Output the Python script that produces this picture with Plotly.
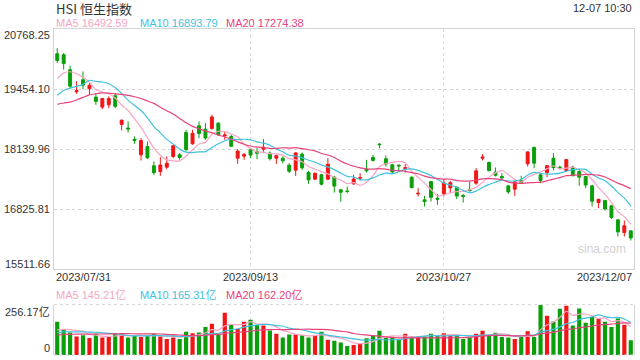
import plotly.graph_objects as go
import pandas as pd

# ---------------- data ----------------
dates = [
    "2023-07-31", "2023-08-01", "2023-08-02", "2023-08-03", "2023-08-04",
    "2023-08-07", "2023-08-08", "2023-08-09", "2023-08-10", "2023-08-11",
    "2023-08-14", "2023-08-15", "2023-08-16", "2023-08-17", "2023-08-18",
    "2023-08-21", "2023-08-22", "2023-08-23", "2023-08-24", "2023-08-25",
    "2023-08-28", "2023-08-29", "2023-08-30", "2023-08-31",
    "2023-09-04", "2023-09-05", "2023-09-06", "2023-09-07",
    "2023-09-11", "2023-09-12", "2023-09-13", "2023-09-14", "2023-09-15",
    "2023-09-18", "2023-09-19", "2023-09-20", "2023-09-21", "2023-09-22",
    "2023-09-25", "2023-09-26", "2023-09-27", "2023-09-28", "2023-09-29",
    "2023-10-03", "2023-10-04", "2023-10-05", "2023-10-06",
    "2023-10-09", "2023-10-10", "2023-10-11", "2023-10-12", "2023-10-13",
    "2023-10-16", "2023-10-17", "2023-10-18", "2023-10-19", "2023-10-20",
    "2023-10-24", "2023-10-25", "2023-10-26", "2023-10-27",
    "2023-10-30", "2023-10-31", "2023-11-01", "2023-11-02", "2023-11-03",
    "2023-11-06", "2023-11-07", "2023-11-08", "2023-11-09", "2023-11-10",
    "2023-11-13", "2023-11-14", "2023-11-15", "2023-11-16", "2023-11-17",
    "2023-11-20", "2023-11-21", "2023-11-22", "2023-11-23", "2023-11-24",
    "2023-11-27", "2023-11-28", "2023-11-29", "2023-11-30", "2023-12-01",
    "2023-12-04", "2023-12-05", "2023-12-06", "2023-12-07",
]

open_ = [
    20227, 20205, 19877, 19395, 19658, 19461, 19278, 19059, 19110, 19307,
    18680, 18600, 18355, 18015, 18198, 17774, 17650, 17745, 17978, 18015,
    18504, 18256, 18650, 18577, 18592, 18709, 18431, 18417, 17942, 17985,
    18124, 18088, 18139, 18052, 17942, 17942, 17789, 17680, 18030, 17628,
    17482, 17577, 17482, 17526, 17249, 17220, 17380, 17505, 17701, 17957,
    18250, 17928, 17796, 17790, 17716, 17526, 17160, 17030, 17431, 17066,
    17160, 17290, 17307, 17125, 17255, 17395, 17940, 17847, 17635, 17540,
    17336, 17263, 17460, 17818, 18176, 17577, 17628, 17942, 17745, 17672,
    17745, 17650, 17540, 17336, 16971, 17015, 16898, 16592, 16314, 16351,
]
high = [
    20351, 20242, 19964, 19621, 19840, 19585, 19366, 19249, 19293, 19366,
    18782, 18745, 18417, 18380, 18307, 17869, 17964, 17979, 18234, 18052,
    18563, 18563, 18745, 18709, 18891, 18723, 18526, 18453, 18140, 18052,
    18161, 18161, 18358, 18088, 18005, 17979, 17832, 18067, 18067, 17665,
    17628, 17599, 17942, 17555, 17263, 17322, 17577, 17614, 17906, 18015,
    18271, 18001, 17818, 17796, 17818, 17540, 17285, 17117, 17431, 17161,
    17482, 17440, 17322, 17161, 17431, 17723, 18030, 17869, 17738, 17614,
    17350, 17431, 17555, 18088, 18198, 17614, 17790, 18052, 17774, 17920,
    17774, 17701, 17555, 17358, 17045, 17030, 16920, 16607, 16577, 16358,
]
low = [
    20023, 19877, 19453, 19351, 19453, 19329, 19110, 19015, 19037, 19037,
    18548, 18504, 18256, 17891, 17920, 17577, 17555, 17700, 17942, 17906,
    18088, 18234, 18380, 18344, 18563, 18431, 18344, 18183, 17818, 17906,
    17942, 17920, 18052, 17891, 17818, 17830, 17614, 17555, 17687, 17380,
    17467, 17344, 17467, 17190, 16988, 17176, 17358, 17453, 17628, 17869,
    18161, 17760, 17614, 17672, 17628, 17285, 17103, 16884, 16993, 16920,
    17103, 17175, 17045, 16971, 17212, 17358, 17891, 17650, 17540, 17467,
    17161, 17117, 17380, 17760, 17723, 17394, 17526, 17672, 17687, 17650,
    17540, 17336, 17285, 16884, 16847, 16796, 16607, 16227, 16227, 16139,
]
close = [
    20078.94, 20011.12, 19517.59, 19420.87, 19539.46, 19537.92, 19184.17, 19246.03, 19248.26, 19075.19,
    18773.55, 18581.13, 18329.30, 18326.63, 17950.85, 17623.29, 17791.01, 17830.00, 18212.17, 17956.45,
    18130.74, 18484.39, 18482.86, 18382.06, 18844.16, 18456.89, 18449.98, 18202.07, 18096.44, 18025.89,
    18009.22, 18047.92, 18182.89, 17930.55, 17997.17, 17885.30, 17655.41, 18057.45, 17729.68, 17466.90,
    17611.87, 17373.03, 17809.66, 17331.22, 17195.84, 17213.87, 17485.98, 17517.40, 17664.31, 17893.10,
    18238.21, 17813.45, 17640.36, 17773.34, 17732.52, 17295.89, 17172.13, 16991.53, 17085.33, 17044.61,
    17398.73, 17406.36, 17112.48, 17101.78, 17230.59, 17664.12, 17966.59, 17670.88, 17568.46, 17511.29,
    17203.26, 17426.21, 17396.86, 18079.00, 17832.84, 17454.19, 17778.07, 17733.89, 17734.60, 17910.92,
    17559.42, 17525.06, 17354.14, 17000.34, 17042.88, 16830.30, 16646.06, 16327.86, 16463.00, 16195.73,
]
volume = [
    169, 128, 114, 94, 101, 87, 108, 89, 92, 108,
    111, 89, 99, 92, 99, 108, 94, 82, 89, 82,
    118, 111, 114, 142, 159, 108, 215, 154, 132, 169,
    179, 154, 150, 125, 108, 89, 104, 104, 101, 89,
    99, 118, 77, 72, 63, 46, 51, 56, 85, 101,
    123, 89, 89, 79, 108, 97, 94, 94, 108, 99,
    111, 101, 99, 82, 89, 108, 123, 99, 113, 92,
    89, 82, 94, 121, 92, 256.17, 200, 171, 235, 251,
    150, 236, 164, 193, 184, 169, 142, 186, 154, 75,
]

# closes / volumes of the 19 sessions before the window (feed the moving averages)
prior_close = [
    19415.76, 19110.38, 18533.05, 18365.70, 18479.73, 18659.83, 18860.95, 19350.00,
    19413.78, 19015.33, 18980.81, 18952.18, 19077.01, 19075.00, 18668.15, 19434.40,
    19365.14, 19639.11, 19916.56,
]
prior_volume = [88, 92, 85, 95, 90, 87, 93, 89, 91, 94, 96, 102, 99, 103, 100, 115, 120, 117, 119]

price_ticks = [20768.25, 19454.10, 18139.96, 16825.81, 15511.66]
price_tick_text = ["20768.25", "19454.10", "18139.96", "16825.81", "15511.66"]
vol_ticks = [256.17, 0]
vol_tick_text = ["256.17亿", "0"]
date_labels = ["2023/07/31", "2023/09/13", "2023/10/27", "2023/12/07"]
date_label_cats = ["2023-07-31", "2023-09-13", "2023-10-27", "2023-12-07"]
title_text = "HSI 恒生指数"
time_text = "12-07 10:30"
price_ma_text = ["MA5 16492.59", "MA10 16893.79", "MA20 17274.38"]
vol_ma_text = ["MA5 145.21亿", "MA10 165.31亿", "MA20 162.20亿"]

# ---------------- style ----------------
RED = "#f21515"
GREEN = "#0a9f0a"
MA_COLORS = ["#f7a5c4", "#3ec2de", "#e8447c"]
MA_N = [5, 10, 20]
GRID = "#d4d4d4"
TXT = "#333333"
FONT = "Liberation Sans, Arial, sans-serif"

n_prior = len(prior_close)
cs = pd.Series(prior_close + close)
vs = pd.Series(prior_volume + volume)
price_ma = [cs.rolling(n).mean().iloc[n_prior:].tolist() for n in MA_N]
vol_ma = [vs.rolling(n).mean().iloc[len(prior_volume):].tolist() for n in MA_N]
vol_colors = [RED if c >= o else GREEN for o, c in zip(open_, close)]

fig = go.Figure()
fig.add_trace(go.Candlestick(
    x=dates, open=open_, high=high, low=low, close=close,
    increasing=dict(line=dict(color=RED, width=1), fillcolor=RED),
    decreasing=dict(line=dict(color=GREEN, width=1), fillcolor=GREEN),
    whiskerwidth=0, xaxis="x", yaxis="y", showlegend=False, hoverinfo="skip",
))
for vals, col in zip(price_ma, MA_COLORS):
    fig.add_trace(go.Scatter(x=dates, y=vals, mode="lines",
                             line=dict(color=col, width=1.2, shape="spline", smoothing=0.6),
                             xaxis="x", yaxis="y", showlegend=False, hoverinfo="skip"))
fig.add_trace(go.Bar(x=dates, y=volume, marker=dict(color=vol_colors, line=dict(width=0)),
                     xaxis="x2", yaxis="y2", showlegend=False, hoverinfo="skip"))
for vals, col in zip(vol_ma, MA_COLORS):
    fig.add_trace(go.Scatter(x=dates, y=vals, mode="lines",
                             line=dict(color=col, width=1.2, shape="spline", smoothing=0.6),
                             xaxis="x2", yaxis="y2", showlegend=False, hoverinfo="skip"))

PT, PB = 29.3, 5
H = 360
plot_h = H - PT - PB
price_bottom_px = 269.3
vol_top_px = 304.7
price_dom = [(H - PB - price_bottom_px) / plot_h, 1]
vol_dom = [0, (H - PB - vol_top_px) / plot_h]

xcommon = dict(type="category", range=[-0.5, len(dates) - 0.5],
               tickvals=["2023-09-13", "2023-10-27"], showticklabels=False,
               showgrid=True, gridcolor="#dcdcdc", griddash="3px,3px", gridwidth=1,
               ticks="", fixedrange=True, rangeslider=dict(visible=False))

annotations = []
# title & time
annotations.append(dict(text=title_text, xref="paper", yref="paper", x=0, y=1, xanchor="left",
                        yanchor="middle", yshift=21, xshift=0, showarrow=False,
                        font=dict(family="Noto Sans CJK SC, sans-serif", size=13, color=TXT)))
annotations.append(dict(text=time_text, xref="paper", yref="paper", x=1, y=1, xanchor="right",
                        yanchor="middle", yshift=21, showarrow=False,
                        font=dict(family=FONT, size=11, color=TXT)))
ma_x_shift = [0, 84, 170]
for t, col, xs in zip(price_ma_text, MA_COLORS, ma_x_shift):
    annotations.append(dict(text=t, xref="paper", yref="paper", x=0, y=1, xanchor="left",
                            yanchor="middle", xshift=xs, yshift=6.5, showarrow=False,
                            font=dict(family=FONT, size=11, color=col)))
for t, col, xs in zip(vol_ma_text, MA_COLORS, ma_x_shift):
    annotations.append(dict(text=t, xref="paper", yref="y2 domain", x=0, y=1, xanchor="left",
                            yanchor="middle", xshift=xs, yshift=10, showarrow=False,
                            font=dict(family="Liberation Sans, Noto Sans CJK SC, sans-serif", size=11, color=col)))
# price axis labels
p_shift = [-6, 0, 0, 0, 5]
for v, t, s in zip(price_ticks, price_tick_text, p_shift):
    annotations.append(dict(text=t, xref="paper", yref="y", x=0, y=v, xanchor="right",
                            yanchor="middle", xshift=-2, yshift=s, showarrow=False,
                            font=dict(family=FONT, size=11, color=TXT)))
v_shift = [-7, 7]
for v, t, s in zip(vol_ticks, vol_tick_text, v_shift):
    annotations.append(dict(text=t, xref="paper", yref="y2", x=0, y=v, xanchor="right",
                            yanchor="middle", xshift=-2, yshift=s, showarrow=False,
                            font=dict(family="Liberation Sans, Noto Sans CJK SC, sans-serif", size=11, color=TXT)))
# date labels
for k, (t, c) in enumerate(zip(date_labels, date_label_cats)):
    if k == 0:
        a = dict(xref="paper", x=0, xanchor="left")
    elif k == len(date_labels) - 1:
        a = dict(xref="paper", x=1, xanchor="right")
    else:
        a = dict(xref="x", x=c, xanchor="center")
    a.update(text=t, yref="y domain", y=0, yanchor="middle", yshift=-8, showarrow=False,
             font=dict(family=FONT, size=11, color=TXT))
    annotations.append(a)
# watermark
annotations.append(dict(text="sina.com", xref="paper", yref="y domain", x=1, y=0, xanchor="right",
                        yanchor="middle", xshift=-6, yshift=20, showarrow=False,
                        font=dict(family=FONT, size=12, color="#d0d0d0")))

shapes = [
    dict(type="line", xref="paper", yref="y2 domain", x0=0, x1=1, y0=1, y1=1,
         line=dict(color=GRID, width=1, dash="dot")),
    dict(type="line", xref="paper", yref="y2 domain", x0=0, x1=1, y0=0, y1=0,
         line=dict(color=GRID, width=1, dash="dot")),
]

fig.update_layout(
    width=640, height=360, autosize=False,
    margin=dict(l=54, r=6, t=PT, b=PB, pad=0),
    paper_bgcolor="white", plot_bgcolor="white",
    showlegend=False, bargap=0.35, boxgap=0.35,
    xaxis=dict(xcommon, anchor="y", showline=True, mirror=True, linecolor=GRID, linewidth=1),
    xaxis2=dict(xcommon, anchor="y2", matches="x", showline=False),
    yaxis=dict(domain=price_dom, range=[price_ticks[-1], price_ticks[0]],
               tickvals=price_ticks[1:-1], showticklabels=False, showgrid=True,
               gridcolor=GRID, griddash="dot", zeroline=False, showline=True, mirror=True,
               linecolor=GRID, linewidth=1, ticks="", fixedrange=True),
    yaxis2=dict(domain=vol_dom, range=[0, vol_ticks[0]], showticklabels=False, showgrid=False,
                zeroline=False, showline=True, mirror=True, linecolor=GRID, linewidth=1,
                ticks="", fixedrange=True),
    annotations=annotations, shapes=shapes,
)

fig.write_html("out.html", config={"displayModeBar": False},
               post_script="document.body.style.margin='0';")
